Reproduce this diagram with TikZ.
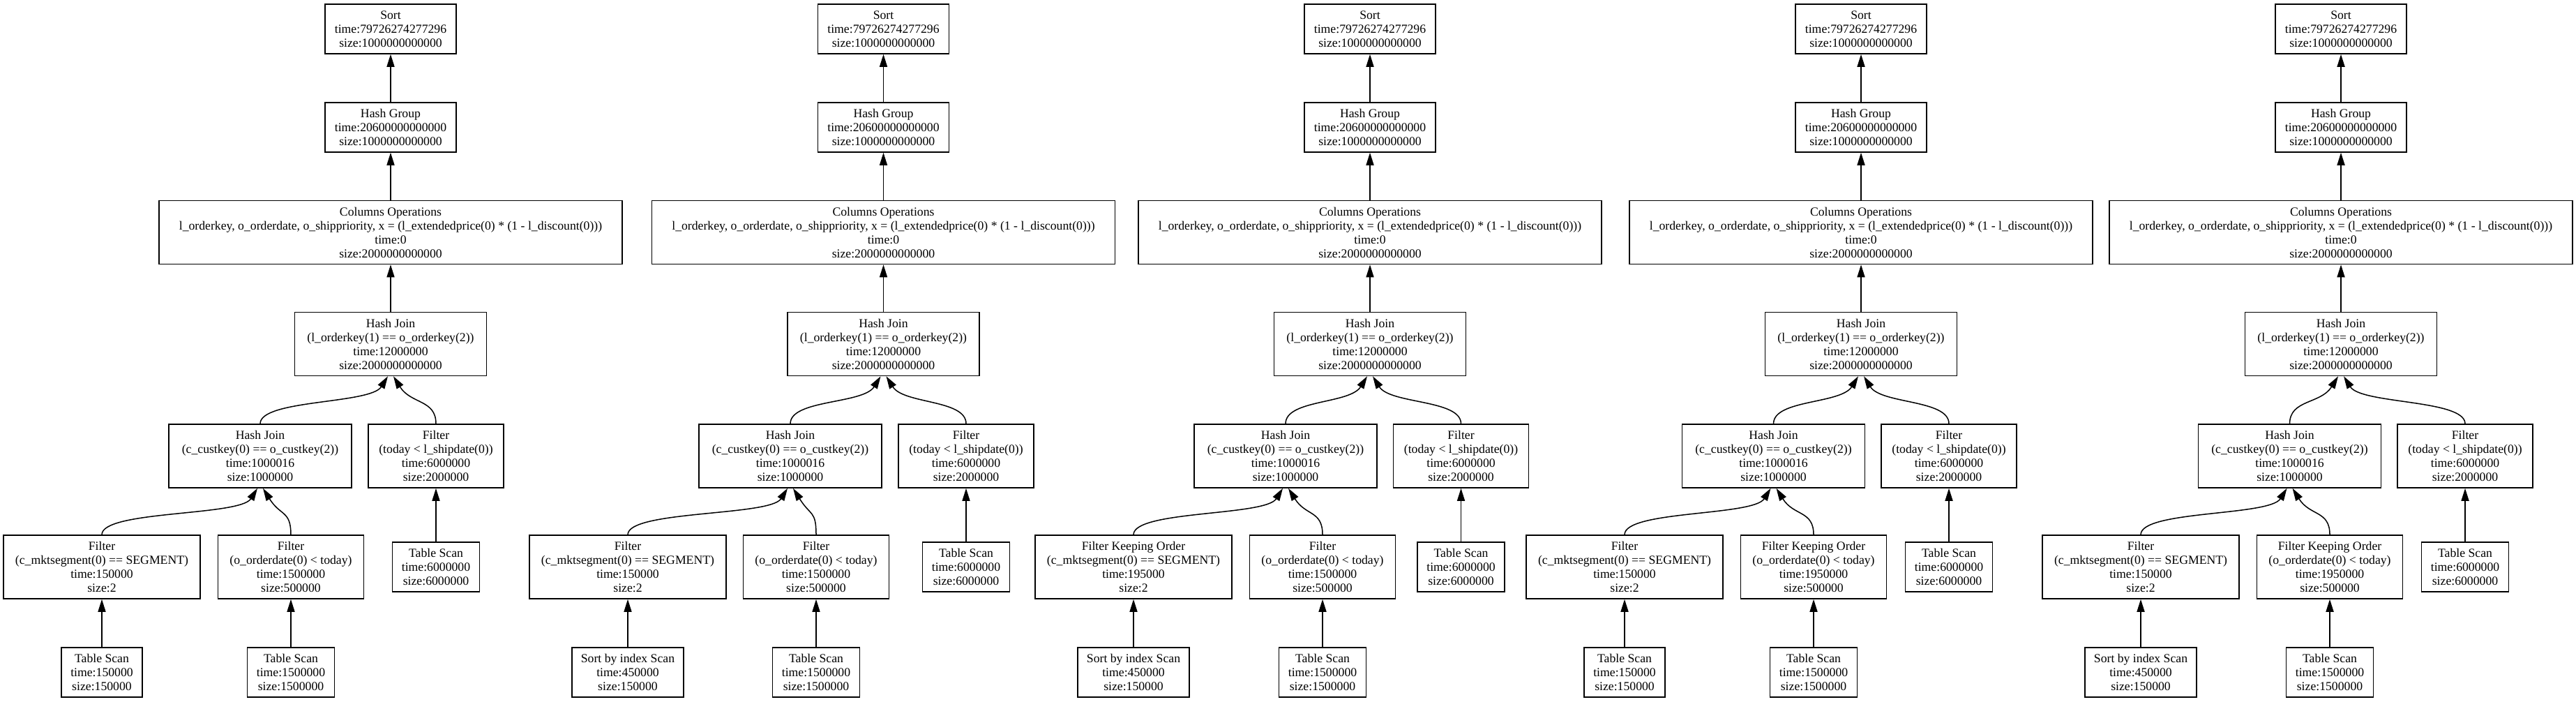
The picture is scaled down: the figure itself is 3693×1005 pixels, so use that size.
\documentclass[tikz,border=0pt]{standalone}
\usepackage{fontspec}
\setmainfont{Liberation Serif}
\usetikzlibrary{arrows.meta}
\tikzset{
 box/.style={draw, line width=1.5pt, rectangle, align=center, inner xsep=13pt, inner ysep=2pt, font=\fontsize{17.7pt}{20pt}\selectfont},
 boxthree/.style={box, minimum height=71pt},
 boxfour/.style={box, minimum height=91pt},
 edge/.style={draw, line width=1.5pt, -{Triangle[length=18pt,width=11pt]}}
}
\newcommand\curvededge[3]{\draw[edge] (#1.north) .. controls +(0,35) and +({#3*25},-40) .. ([xshift={#3*4pt}]#2.south);}
\newcommand\plantree[9]{%
 \node[boxthree, minimum width=188pt] (#1s) at (#2,-41.5) {Sort\\time:79726274277296\\size:1000000000000};
 \node[boxthree, minimum width=188pt] (#1g) at (#2,-182.5) {Hash Group\\time:20600000000000\\size:1000000000000};
 \node[boxfour, minimum width=664pt] (#1c) at (#2,-333) {Columns Operations\\l\_orderkey, o\_orderdate, o\_shippriority, x = (l\_extendedprice(0) * (1 - l\_discount(0)))\\time:0\\size:2000000000000};
 \node[boxfour, minimum width=275pt] (#1j) at (#2,-493) {Hash Join\\(l\_orderkey(1) == o\_orderkey(2))\\time:12000000\\size:2000000000000};
 \node[boxfour, minimum width=262pt] (#1h) at (#3,-653.5) {Hash Join\\(c\_custkey(0) == o\_custkey(2))\\time:1000016\\size:1000000};
 \node[boxfour, minimum width=194pt] (#1f) at (#4,-653.5) {Filter\\(today < l\_shipdate(0))\\time:6000000\\size:2000000};
 \node[boxthree, minimum width=125pt] (#1t) at (#4,-812.5) {Table Scan\\time:6000000\\size:6000000};
 \node[boxfour, minimum width=282pt] (#1x) at (#5,-812.5) {#7};
 \node[boxfour, minimum width=209pt] (#1y) at (#6,-812.5) {#8};
 \node[boxthree, minimum width=116pt] (#1l) at (#5,-963.5) {#9};
 \node[boxthree, minimum width=125pt] (#1o) at (#6,-963.5) {Table Scan\\time:1500000\\size:1500000};
 \draw[edge] (#1g.north) -- (#1s.south);
 \draw[edge] (#1c.north) -- (#1g.south);
 \draw[edge] (#1j.north) -- (#1c.south);
 \curvededge{#1h}{#1j}{-1}
 \curvededge{#1f}{#1j}{1}
 \draw[edge] (#1t.north) -- (#1f.south);
 \curvededge{#1x}{#1h}{-1}
 \curvededge{#1y}{#1h}{1}
 \draw[edge] (#1l.north) -- (#1x.south);
 \draw[edge] (#1o.north) -- (#1y.south);
}
\begin{document}
\begin{tikzpicture}[x=1pt,y=1pt]
\useasboundingbox (0,0) rectangle (3693,-1005);
\plantree{a}{560}{373}{625}{146}{417}
 {Filter\\(c\_mktsegment(0) == SEGMENT)\\time:150000\\size:2}
 {Filter\\(o\_orderdate(0) < today)\\time:1500000\\size:500000}
 {Table Scan\\time:150000\\size:150000}
\plantree{b}{1266.5}{1133}{1385}{900}{1170}
 {Filter\\(c\_mktsegment(0) == SEGMENT)\\time:150000\\size:2}
 {Filter\\(o\_orderdate(0) < today)\\time:1500000\\size:500000}
 {Sort by index Scan\\time:450000\\size:150000}
\plantree{c}{1964}{1843}{2094.5}{1625}{1896}
 {Filter Keeping Order\\(c\_mktsegment(0) == SEGMENT)\\time:195000\\size:2}
 {Filter\\(o\_orderdate(0) < today)\\time:1500000\\size:500000}
 {Sort by index Scan\\time:450000\\size:150000}
\plantree{d}{2668}{2542.5}{2794}{2329}{2600}
 {Filter\\(c\_mktsegment(0) == SEGMENT)\\time:150000\\size:2}
 {Filter Keeping Order\\(o\_orderdate(0) < today)\\time:1950000\\size:500000}
 {Table Scan\\time:150000\\size:150000}
\plantree{e}{3356}{3282.5}{3534}{3069}{3340}
 {Filter\\(c\_mktsegment(0) == SEGMENT)\\time:150000\\size:2}
 {Filter Keeping Order\\(o\_orderdate(0) < today)\\time:1950000\\size:500000}
 {Sort by index Scan\\time:450000\\size:150000}
\end{tikzpicture}
\end{document}
